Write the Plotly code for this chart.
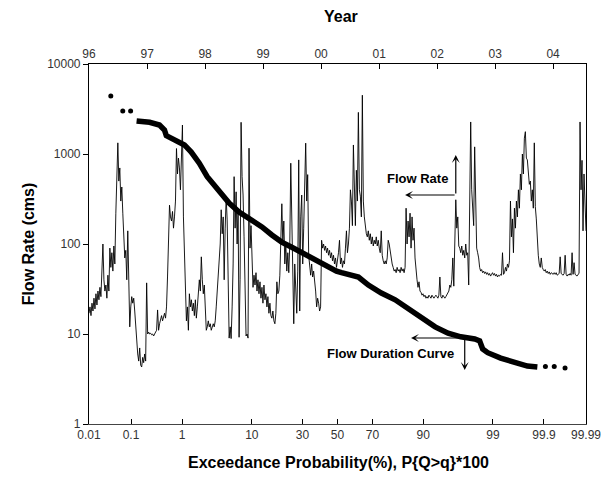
import pandas as pd
import plotly.graph_objects as go
from statistics import NormalDist

# ---------------- data ----------------
# Flow-rate record (cms), sampled evenly through the record, split by year segment
flow_1996 = [17, 20, 16, 22, 18, 25, 19, 28, 21, 30, 24, 33, 26, 45, 100, 40, 30, 35, 25, 45,
             30, 90, 55, 80, 50, 95, 60, 220, 860, 1330, 500, 700, 300, 430, 220, 130, 70, 85, 40, 140,
             25, 12, 20, 26, 22, 25, 18, 12, 8.5, 6, 5, 7, 4.5, 4.3, 5.5, 4.8, 6, 5, 37]
flow_1997 = [10, 10.5, 10, 10.2, 9.8, 10, 9.5, 10, 10.5, 11, 18.5, 11, 13, 15, 16, 14, 16, 17, 15, 20,
             43, 120, 270, 200, 180, 230, 150, 200, 300, 1150, 600, 900, 700, 400, 1000, 2100, 200, 70, 40, 14,
             20, 11, 28, 20, 24, 18, 22, 16, 24, 15, 20, 26, 40, 30, 72, 40, 28, 35]
flow_1998 = [20, 11, 12, 14, 12, 13, 11, 12, 13, 12, 14, 20, 30, 45, 61, 100, 240, 130, 200, 40,
             150, 330, 185, 18, 9, 12, 8.9, 20, 60, 560, 150, 380, 100, 240, 9.2, 40, 2250, 560, 350, 120,
             20, 9.5, 10, 9, 1160, 90, 160, 55, 33, 45, 35, 48, 30, 40, 28, 38, 25, 33, 22]
flow_1999 = [35, 24, 28, 20, 26, 17, 22, 16, 15, 18, 14, 13, 17, 38, 28, 30, 45, 180, 280, 100,
             180, 60, 100, 50, 80, 48, 100, 790, 220, 110, 13, 60, 30, 17, 50, 860, 18, 200, 350, 60,
             150, 370, 1320, 300, 590, 75, 50, 45, 60, 43, 50, 40, 30, 20, 25, 22, 18, 20]
flow_2000 = [110, 90, 100, 85, 95, 80, 90, 75, 85, 70, 80, 65, 75, 60, 70, 55, 65, 80, 110, 60,
             70, 55, 65, 60, 90, 140, 80, 100, 150, 400, 300, 160, 1260, 250, 160, 660, 300, 2900, 400, 340,
             200, 4500, 300, 200, 150, 130, 120, 140, 110, 130, 100, 120, 95, 110, 100, 120, 95, 110]
flow_2001 = [90, 80, 140, 75, 65, 60, 65, 60, 70, 110, 100, 80, 75, 60, 55, 50, 52, 48, 55, 50,
             52, 48, 55, 50, 53, 48, 55, 250, 100, 180, 120, 220, 90, 200, 110, 150, 70, 48, 40, 33,
             38, 30, 29, 27, 28, 26, 27, 25, 26, 25, 27, 26, 25, 27, 26, 25, 26, 27, 26]
flow_2002 = [25, 27, 43, 26, 25, 27, 26, 25, 26, 27, 28, 30, 35, 33, 40, 70, 34, 100, 310, 150,
             200, 95, 90, 80, 95, 75, 85, 70, 100, 75, 80, 35, 300, 2270, 400, 260, 160, 1200, 200, 90,
             80, 70, 55, 50, 52, 48, 50, 47, 49, 46, 48, 45, 47, 44, 46, 48, 45, 47]
flow_2003 = [44, 46, 43, 45, 44, 46, 45, 80, 46, 48, 55, 50, 60, 55, 65, 300, 120, 190, 80, 250,
             150, 300, 200, 400, 250, 600, 400, 1000, 600, 1500, 1770, 900, 860, 560, 460, 500, 300, 400, 250, 1330,
             260, 190, 100, 75, 60, 55, 70, 55, 52, 50, 52, 48, 50, 47, 49, 46, 48, 47, 46]
flow_2004 = [48, 46, 48, 45, 46, 47, 72, 47, 46, 45, 47, 75, 46, 44, 46, 45, 47, 45, 80, 46,
             62, 46, 45, 44, 46, 47, 2270, 400, 850, 140, 600, 200, 140]
record_start = "1996-01-01"
record_end = "2004-07-26"

# Flow duration curve: exceedance probability (%) and flow (cms)
fdc_prob = [0.132, 0.168, 0.246, 0.386, 0.48, 0.52, 0.80, 1.10, 1.43, 1.93, 2.56, 3.48, 4.49, 5.24,
            7.04, 10.0, 12.9, 16.3, 20.2, 24.7, 29.6, 34.9, 42.9, 49.4, 52.4, 62.3, 67.8, 74.4, 80.6,
            85.5, 89.4, 92.8, 95.1, 96.75, 98.0, 98.33, 98.51, 98.77, 99.27, 99.60, 99.776, 99.861]
fdc_flow = [2330, 2330, 2250, 2100, 1850, 1600, 1370, 1260, 1050, 790, 560, 430, 330, 285,
            227, 185, 155, 126, 105, 92, 80, 70, 58, 50, 48, 43, 35, 28.5, 24,
            19.4, 15.5, 12, 10.2, 9.3, 8.8, 8.4, 6.8, 6.2, 5.4, 4.8, 4.4, 4.3]
fdc_tail_prob = [0.0346, 0.0655, 0.098, 99.907, 99.941, 99.967]
fdc_tail_flow = [4400, 3000, 3000, 4.35, 4.35, 4.2]

prob_ticks = [0.01, 0.1, 1, 10, 30, 50, 70, 90, 99, 99.9, 99.99]
prob_labels = ["0.01", "0.1", "1", "10", "30", "50", "70", "90", "99", "99.9", "99.99"]
year_ticks = ["1996", "1997", "1998", "1999", "2000", "2001", "2002", "2003", "2004"]
year_labels = ["96", "97", "98", "99", "00", "01", "02", "03", "04"]
flow_ticks = [1, 10, 100, 1000, 10000]

# ---------------- build ----------------
nd = NormalDist()
z = lambda p: nd.inv_cdf(p / 100.0)

flows = flow_1996 + flow_1997 + flow_1998 + flow_1999 + flow_2000 + flow_2001 + flow_2002 + flow_2003 + flow_2004
dates = pd.date_range(record_start, record_end, periods=len(flows))

fig = go.Figure()
fig.add_trace(go.Scatter(x=dates, y=flows, xaxis="x2", yaxis="y", mode="lines",
                         line=dict(color="black", width=0.9), showlegend=False, hoverinfo="skip"))
fig.add_trace(go.Scatter(x=[z(p) for p in fdc_prob], y=fdc_flow, mode="lines",
                         line=dict(color="black", width=5.5), showlegend=False, hoverinfo="skip"))
fig.add_trace(go.Scatter(x=[z(p) for p in fdc_tail_prob], y=fdc_tail_flow, mode="markers",
                         marker=dict(color="black", size=5), showlegend=False, hoverinfo="skip"))

tick_font = dict(family="Liberation Sans, Arial, sans-serif", size=12, color="#333")
title_font = dict(family="Liberation Sans, Arial, sans-serif", size=16, color="black")
ann_font = dict(family="Liberation Sans, Arial, sans-serif", size=13, color="black")

fig.update_layout(
    width=613, height=484,
    margin=dict(l=89, r=24, t=64, b=60),
    paper_bgcolor="white", plot_bgcolor="white",
    hovermode=False,
    xaxis=dict(range=[z(0.01), z(99.99)], tickvals=[z(p) for p in prob_ticks], ticktext=prob_labels,
               ticks="inside", ticklen=5, tickcolor="black", showline=True, linecolor="#444",
               linewidth=1, showgrid=False, zeroline=False, tickfont=tick_font),
    xaxis2=dict(type="date", range=[record_start, record_end], overlaying="x", side="top", anchor="y",
                tickvals=year_ticks, ticktext=year_labels, ticks="inside", ticklen=5, tickcolor="black",
                showline=True, linecolor="black", linewidth=1.2, showgrid=False, zeroline=False,
                tickfont=tick_font),
    yaxis=dict(type="log", range=[0, 4], tickvals=flow_ticks, ticktext=[str(v) for v in flow_ticks],
               ticks="outside", ticklen=5, tickcolor="black", showline=True, mirror=True,
               linecolor="black", linewidth=1.2, showgrid=False, zeroline=False, tickfont=tick_font),
)

annotations = [
    dict(text="<b>Year</b>", x=0.508, y=1.133, xref="paper", yref="paper", showarrow=False,
         font=title_font, xanchor="center", yanchor="middle"),
    dict(text="<b>Exceedance Probability(%), P{Q>q}*100</b>", x=0.502, y=-0.108, xref="paper",
         yref="paper", showarrow=False, font=title_font, xanchor="center", yanchor="middle"),
    dict(text="<b>Flow Rate (cms)</b>", x=-0.122, y=0.5, xref="paper", yref="paper", showarrow=False,
         font=title_font, textangle=-90, xanchor="center", yanchor="middle"),
    dict(text="<b>Flow Rate</b>", x=0.66, y=0.683, xref="paper", yref="paper", showarrow=False,
         font=ann_font, xanchor="center", yanchor="middle"),
    dict(text="<b>Flow Duration Curve</b>", x=0.606, y=0.197, xref="paper", yref="paper",
         showarrow=False, font=ann_font, xanchor="center", yanchor="middle"),
]
arrow_style = dict(text="", xref="paper", yref="paper", showarrow=True, arrowhead=3, arrowsize=1.1,
                   arrowwidth=1.2, arrowcolor="black", standoff=0, startstandoff=0)
annotations += [
    dict(arrow_style, x=(458 - 89) / 500, y=(424 - 155) / 360, ax=0, ay=40),
    dict(arrow_style, x=(407 - 89) / 500, y=(424 - 195) / 360, ax=51, ay=0),
    dict(arrow_style, x=(413 - 89) / 500, y=(424 - 338) / 360, ax=54, ay=0),
    dict(arrow_style, x=(467 - 89) / 500, y=(424 - 370) / 360, ax=0, ay=-32),
]
fig.update_layout(annotations=annotations)

fig.write_html("out.html", config={"displayModeBar": False},
               post_script="document.body.style.margin='0';")
